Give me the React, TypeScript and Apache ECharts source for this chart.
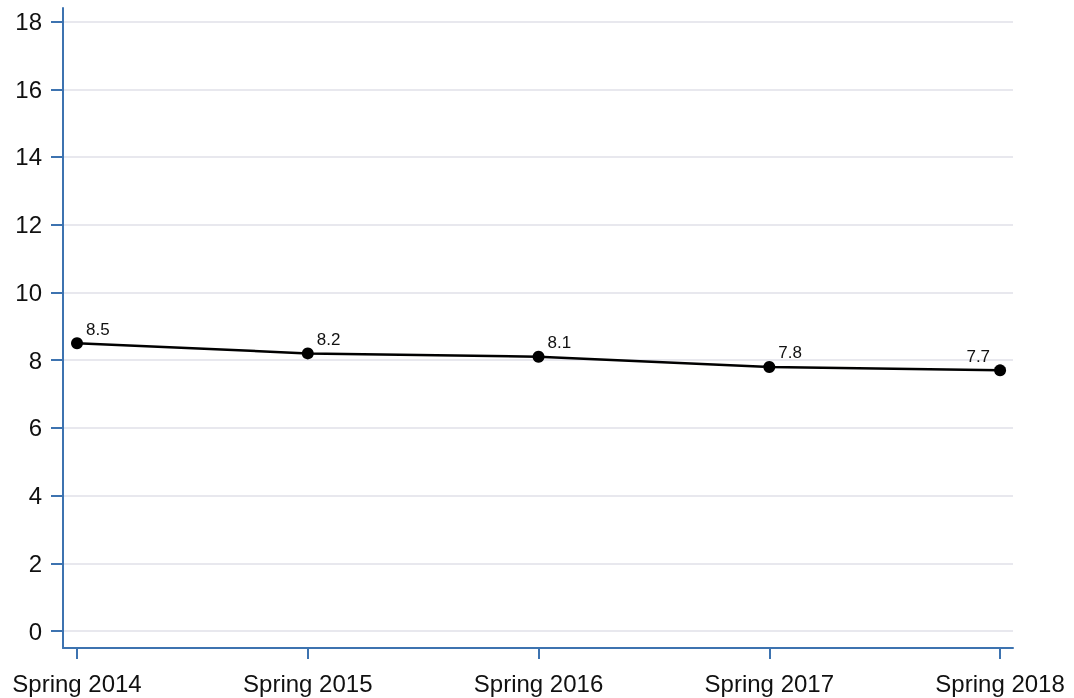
import React, { useEffect, useRef } from "react";
import * as echarts from "echarts";

const categories = ["Spring 2014", "Spring 2015", "Spring 2016", "Spring 2017", "Spring 2018"];
const values = [8.5, 8.2, 8.1, 7.8, 7.7];
const yTicks = [0, 2, 4, 6, 8, 10, 12, 14, 16, 18];
const xTicks = [0, 1, 2, 3, 4];

export default function App() {
  const ref = useRef<HTMLDivElement>(null);
  useEffect(() => {
    if (!ref.current) return;
    const chart = echarts.init(ref.current, null, { renderer: "svg" });
    const axisColor = "#3d73b0";
    const font = "Arial, 'Liberation Sans', sans-serif";
    const last = values.length - 1;
    chart.setOption({
      animation: false,
      grid: { left: 63, right: 61, top: 8, bottom: 50, containLabel: false },
      xAxis: {
        type: "value",
        min: -0.0607,
        max: 4.056,
        axisLine: { show: true, onZero: false, lineStyle: { color: axisColor, width: 2 } },
        axisTick: { show: true, length: 11, lineStyle: { color: axisColor, width: 2 }, customValues: xTicks },
        axisLabel: {
          customValues: xTicks,
          formatter: (v: number) => categories[Math.round(v)] ?? "",
          color: "#111",
          fontSize: 24,
          fontFamily: font,
          margin: 23,
          showMinLabel: true,
          showMaxLabel: true,
        },
        splitLine: { show: false },
      },
      yAxis: {
        type: "value",
        min: -0.5,
        max: 18.4,
        axisLine: { show: true, onZero: false, lineStyle: { color: axisColor, width: 2 } },
        axisTick: { show: true, length: 12, lineStyle: { color: axisColor, width: 2 }, customValues: yTicks },
        axisLabel: {
          customValues: yTicks,
          color: "#111",
          fontSize: 24,
          fontFamily: font,
          margin: 21,
        },
        splitLine: { show: true, lineStyle: { color: "#e8e8ee", width: 2 } },
      },
      series: [
        {
          type: "line",
          data: values.map((v, i) => ({
            value: [xTicks[i], v],
            label:
              i === last
                ? { show: true, position: "left", distance: 5, offset: [1, -14] }
                : { show: true, position: "right", distance: 5, offset: [-2, -14] },
          })),
          symbol: "circle",
          symbolSize: 12,
          itemStyle: { color: "#000" },
          lineStyle: { color: "#000", width: 2.5 },
          label: {
            show: true,
            color: "#111",
            fontSize: 17,
            fontFamily: font,
            formatter: (p: any) => String(p.value[1]),
          },
        },
      ],
    });
    return () => chart.dispose();
  }, []);
  return <div ref={ref} style={{ position: "fixed", left: 0, top: 0, width: 1074, height: 698 }} />;
}
